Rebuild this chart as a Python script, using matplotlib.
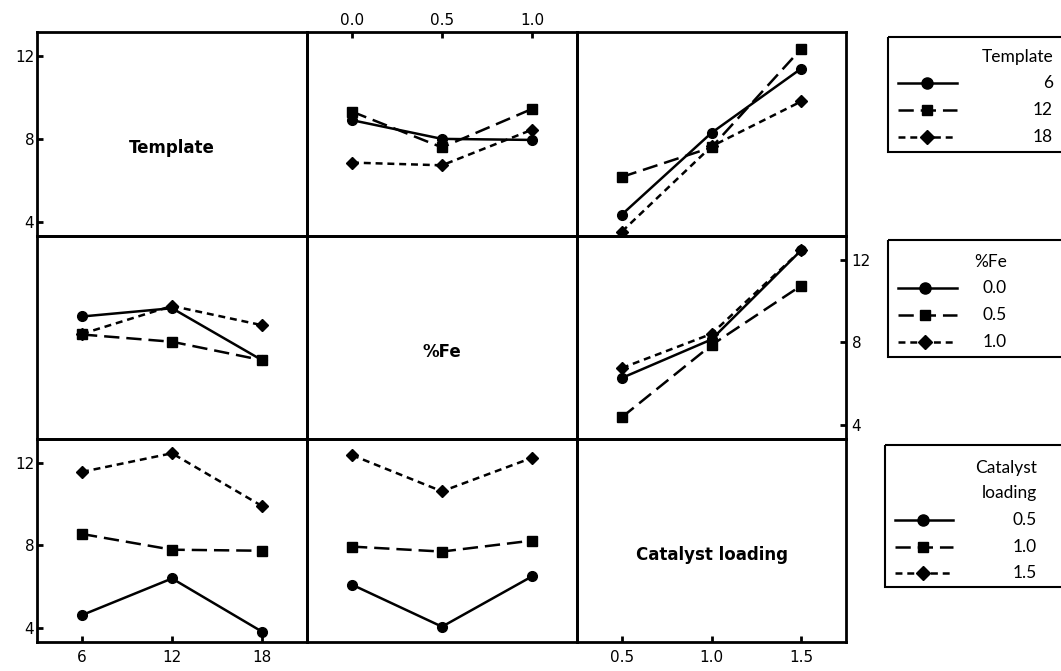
import matplotlib
matplotlib.use("Agg")
import matplotlib.pyplot as plt
from matplotlib.lines import Line2D
from matplotlib.patches import Rectangle

# Factor levels
template_levels = [6, 12, 18]
fe_levels = [0.0, 0.5, 1.0]
catalyst_levels = [0.5, 1.0, 1.5]

template_tick_labels = ["6", "12", "18"]
fe_tick_labels = ["0.0", "0.5", "1.0"]
catalyst_tick_labels = ["0.5", "1.0", "1.5"]
y_ticks = [4, 8, 12]

# Mean responses: one row per level of the trace factor
template_by_fe = [[8.90, 8.00, 7.95], [9.31, 7.59, 9.44], [6.86, 6.73, 8.44]]
template_by_catalyst = [[4.36, 8.29, 11.38], [6.17, 7.59, 12.33], [3.54, 7.64, 9.80]]
fe_by_template = [[9.25, 9.65, 7.14], [8.38, 8.03, 7.14], [8.41, 9.76, 8.83]]
fe_by_catalyst = [[6.28, 8.14, 12.45], [4.38, 7.87, 10.74], [6.76, 8.41, 12.45]]
catalyst_by_template = [[4.63, 6.40, 3.83], [8.55, 7.79, 7.74], [11.55, 12.45, 9.90]]
catalyst_by_fe = [[6.10, 4.07, 6.50], [7.94, 7.70, 8.23], [12.36, 10.61, 12.23]]

plt.rcParams["lines.scale_dashes"] = False
plt.rcParams["font.family"] = "DejaVu Sans"

W, H = 1061, 671
fig = plt.figure(figsize=(W / 100, H / 100), dpi=100)
fig.patch.set_facecolor("white")

col_edges = [37, 307, 577, 846]
row_edges = [32, 236, 439, 642]

styles = [
    dict(marker="o", ms=7.0, linestyle="-"),
    dict(marker="s", ms=6.5, linestyle=(0, (11, 5))),
    dict(marker="D", ms=6.0, linestyle=(0, (5, 3.5))),
]

SPINE_W = 2.0
FS_TICK = 11
LW = 1.8


def make_ax(r, c):
    x0, x1 = col_edges[c], col_edges[c + 1]
    y0, y1 = row_edges[r], row_edges[r + 1]
    ax = fig.add_axes([x0 / W, 1 - y1 / H, (x1 - x0) / W, (y1 - y0) / H])
    ax.set_facecolor("none")
    for s in ax.spines.values():
        s.set_linewidth(SPINE_W)
    ax.set_ylim(3.33, 13.14)
    ax.tick_params(which="both", direction="in", length=4, width=2,
                   labelsize=FS_TICK, bottom=False, top=False, left=False,
                   right=False, labelbottom=False, labeltop=False,
                   labelleft=False, labelright=False, pad=2)
    ax.tick_params(axis="x", pad=6)
    return ax


def draw_traces(ax, x, table):
    for vals, st in zip(table, styles):
        ax.plot(x, vals, color="black", lw=LW, marker=st["marker"],
                ms=st["ms"], linestyle=st["linestyle"], mfc="black",
                mec="black")


def set_xrange(ax, levels):
    step = levels[1] - levels[0]
    ax.set_xlim(levels[0] - step / 2, levels[-1] + step / 2)
    ax.set_xticks(levels)


panel_font = dict(fontsize=12, fontweight="bold", ha="center", va="center")

# Row 1: Template traces
ax = make_ax(0, 0)
set_xrange(ax, template_levels)
ax.set_yticks(y_ticks)
ax.tick_params(left=True, labelleft=True)
ax.text(0.5, 0.43, "Template", transform=ax.transAxes, **panel_font)

ax = make_ax(0, 1)
set_xrange(ax, fe_levels)
ax.set_xticklabels(fe_tick_labels)
ax.tick_params(top=True, labeltop=True)
ax.tick_params(axis="x", pad=3)
draw_traces(ax, fe_levels, template_by_fe)

ax = make_ax(0, 2)
set_xrange(ax, catalyst_levels)
draw_traces(ax, catalyst_levels, template_by_catalyst)

# Row 2: %Fe traces
ax = make_ax(1, 0)
set_xrange(ax, template_levels)
draw_traces(ax, template_levels, fe_by_template)

ax = make_ax(1, 1)
set_xrange(ax, fe_levels)
ax.text(0.5, 0.43, "%Fe", transform=ax.transAxes, **panel_font)

ax = make_ax(1, 2)
set_xrange(ax, catalyst_levels)
ax.set_yticks(y_ticks)
ax.tick_params(right=True, labelright=True, pad=4)
draw_traces(ax, catalyst_levels, fe_by_catalyst)

# Row 3: Catalyst loading traces
ax = make_ax(2, 0)
set_xrange(ax, template_levels)
ax.set_xticklabels(template_tick_labels)
ax.set_yticks(y_ticks)
ax.tick_params(left=True, labelleft=True, bottom=True, labelbottom=True)
draw_traces(ax, template_levels, catalyst_by_template)

ax = make_ax(2, 1)
set_xrange(ax, fe_levels)
draw_traces(ax, fe_levels, catalyst_by_fe)

ax = make_ax(2, 2)
set_xrange(ax, catalyst_levels)
ax.set_xticklabels(catalyst_tick_labels)
ax.tick_params(bottom=True, labelbottom=True)
ax.text(0.5, 0.43, "Catalyst loading", transform=ax.transAxes, **panel_font)

# Legends, laid out in pixel space
lay = fig.add_axes([0, 0, 1, 1], zorder=-1)
lay.set_xlim(0, W)
lay.set_ylim(H, 0)
lay.axis("off")

LEG_FONT = dict(family="Lato", fontsize=12.5, color="black")


def legend_block(box_x, box_top, box_bot, title_lines, title_y, labels,
                 row_ys, text_right, line_x0, line_x1, mark_x):
    lay.add_patch(Rectangle((box_x, box_top), W + 20 - box_x, box_bot - box_top,
                            fill=False, lw=1.5, ec="black", clip_on=False))
    for i, t in enumerate(title_lines):
        lay.text(text_right, title_y + i * 25, t, ha="right", va="center",
                 **LEG_FONT)
    for lab, y, st in zip(labels, row_ys, styles):
        lay.add_line(Line2D([line_x0, line_x1], [y, y], color="black", lw=LW,
                            linestyle=st["linestyle"]))
        lay.add_line(Line2D([mark_x], [y], color="black", marker=st["marker"],
                            ms=st["ms"] + 1, mfc="black", mec="black"))
        lay.text(text_right, y, lab, ha="right", va="center", **LEG_FONT)


legend_block(888, 37, 152, ["Template"], 57,
             template_tick_labels, [83, 110, 137], 1053, 898, 957, 927)
legend_block(888, 240, 357, ["%Fe"], 262,
             fe_tick_labels, [288, 315, 342], 1007, 898, 957, 925)
legend_block(885, 445, 587, ["Catalyst", "loading"], 468,
             catalyst_tick_labels, [520, 547, 573], 1037, 895, 953, 923)

fig.savefig("out.png", dpi=100, facecolor="white")
